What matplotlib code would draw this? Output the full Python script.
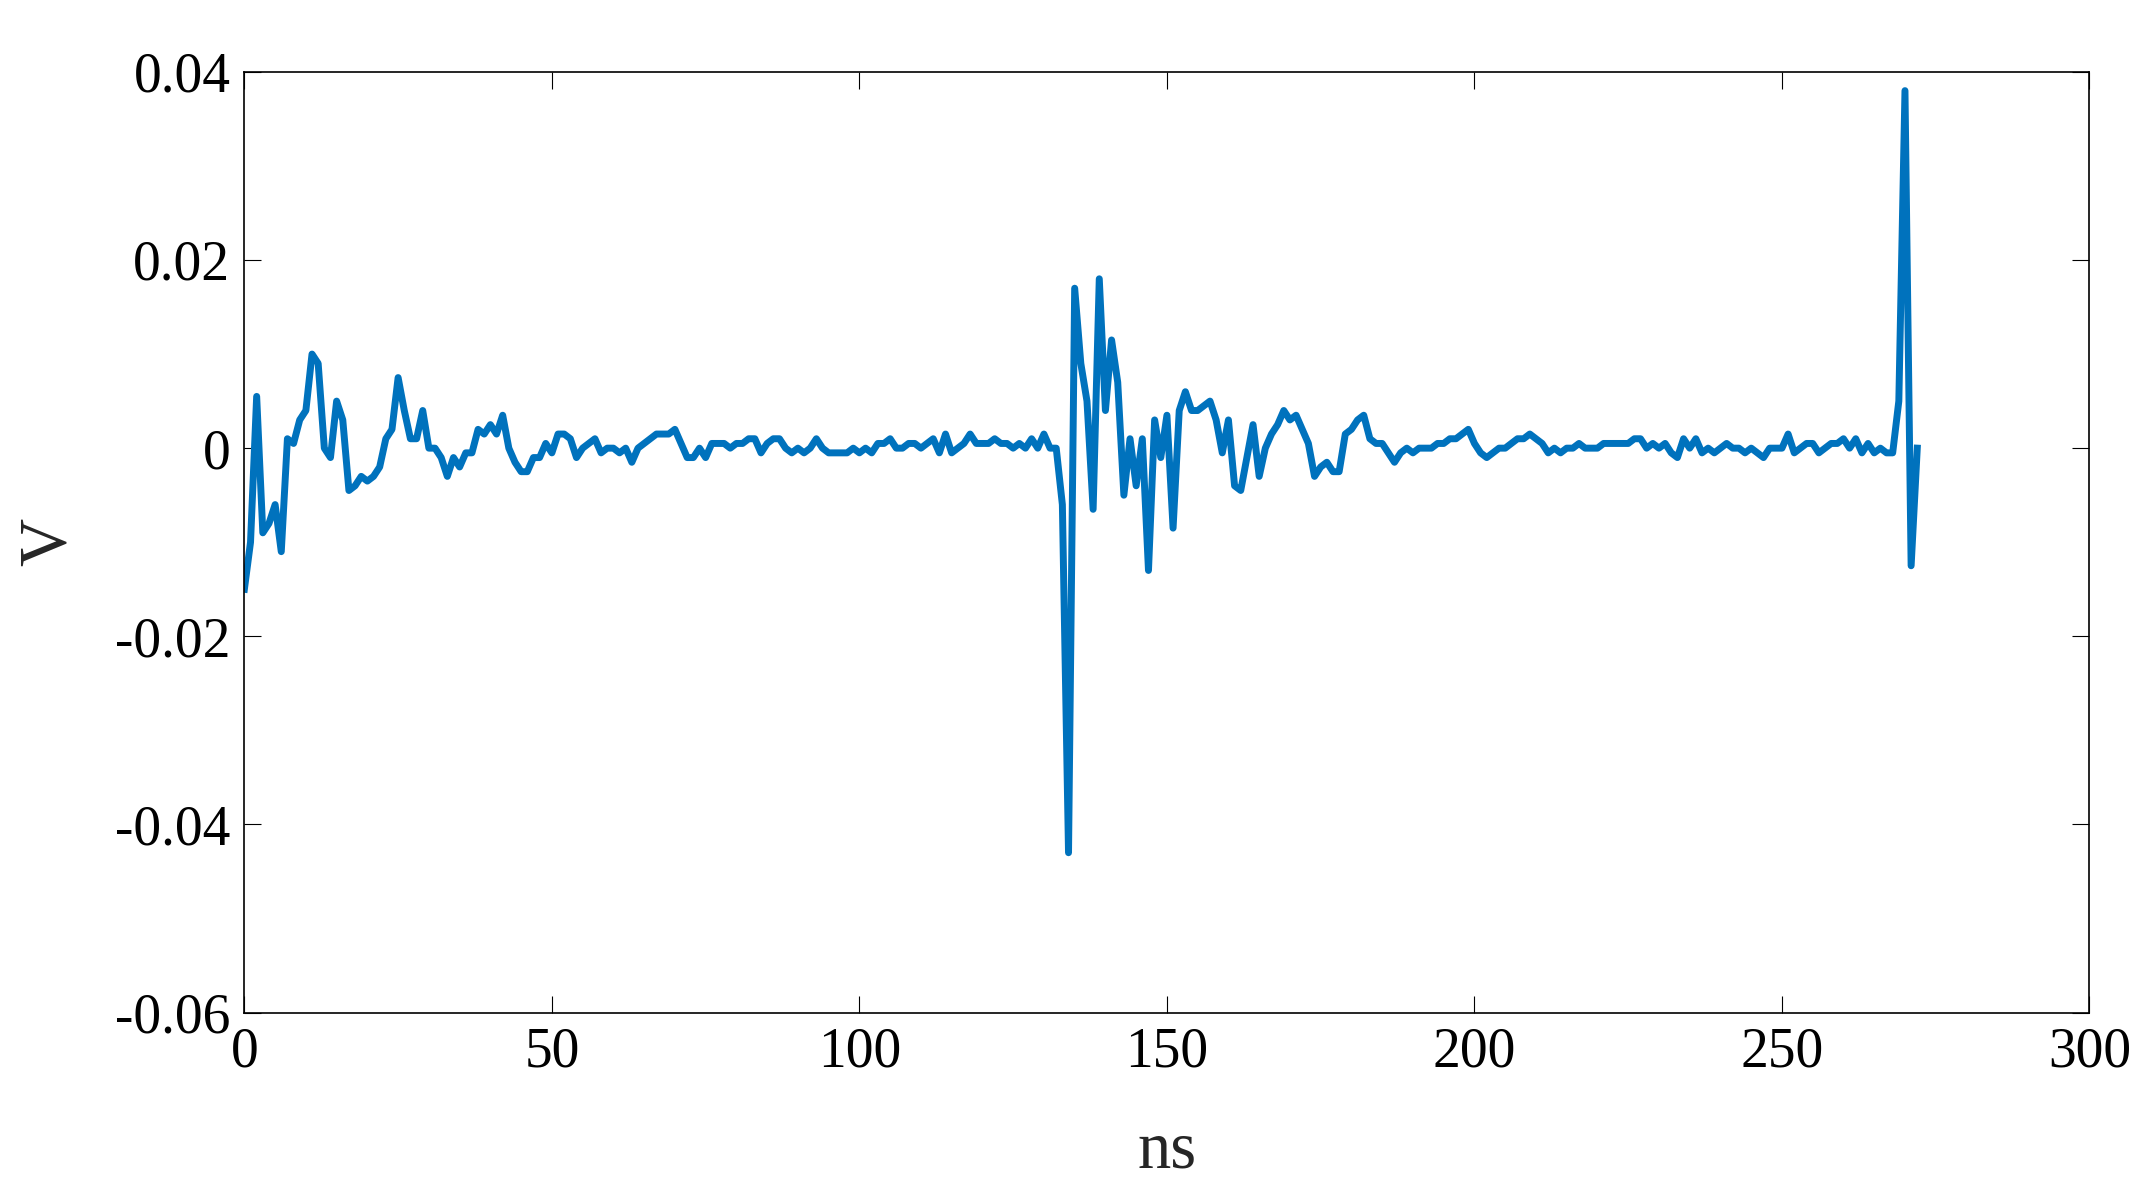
import matplotlib
matplotlib.use("Agg")
import matplotlib.pyplot as plt
import numpy as np

# signal samples (ns, V)
t_ns = list(range(0, 273))
v_start = [-0.015, -0.01, 0.0055, -0.009, -0.008, -0.006, -0.011, 0.001, 0.0005, 0.003,
           0.004, 0.010, 0.009, 0.0, -0.001, 0.005, 0.003, -0.0045, -0.004, -0.003,
           -0.0035, -0.003, -0.002, 0.001, 0.002, 0.0075, 0.004, 0.001, 0.001, 0.004,
           0.0, 0.0, -0.001, -0.003, -0.001, -0.002, -0.0005, -0.0005, 0.002, 0.0015,
           0.0025, 0.0015, 0.0035, 0.0, -0.0015, -0.0025, -0.0025, -0.001, -0.001, 0.0005,
           -0.0005, 0.0015, 0.0015, 0.001, -0.001, 0.0, 0.0005, 0.001, -0.0005, 0.0,
           0.0, -0.0005, 0.0, -0.0015, 0.0, 0.0005, 0.001, 0.0015, 0.0015, 0.0015,
           0.002, 0.0005, -0.001, -0.001, 0.0, -0.001, 0.0005, 0.0005, 0.0005, 0.0,
           0.0005, 0.0005, 0.001, 0.001, -0.0005, 0.0005, 0.001, 0.001, 0.0, -0.0005,
           0.0, -0.0005, 0.0, 0.001, 0.0, -0.0005, -0.0005, -0.0005, -0.0005, 0.0,
           -0.0005, 0.0, -0.0005, 0.0005, 0.0005, 0.001, 0.0, 0.0, 0.0005, 0.0005,
           0.0, 0.0005, 0.001, -0.0005, 0.0015, -0.0005, 0.0, 0.0005, 0.0015, 0.0005,
           0.0005, 0.0005, 0.001, 0.0005, 0.0005, 0.0, 0.0005, 0.0, 0.001, 0.0,
           0.0015, 0.0, 0.0, -0.006, -0.043, 0.017, 0.009, 0.005, -0.0065, 0.018,
           0.004, 0.0115, 0.007, -0.005, 0.001, -0.004, 0.001, -0.013, 0.003, -0.001,
           0.0035, -0.0085, 0.004, 0.006, 0.004, 0.004, 0.0045, 0.005, 0.003, -0.0005,
           0.003, -0.004, -0.0045, -0.001, 0.0025, -0.003, 0.0, 0.0015, 0.0025, 0.004,
           0.003, 0.0035, 0.002, 0.0005, -0.003, -0.002, -0.0015, -0.0025, -0.0025, 0.0015,
           0.002, 0.003, 0.0035, 0.001, 0.0005, 0.0005, -0.0005, -0.0015, -0.0005, 0.0,
           -0.0005, 0.0, 0.0, 0.0, 0.0005, 0.0005, 0.001, 0.001, 0.0015, 0.002,
           0.0005, -0.0005, -0.001, -0.0005, 0.0, 0.0, 0.0005, 0.001, 0.001, 0.0015,
           0.001, 0.0005, -0.0005, 0.0, -0.0005, 0.0, 0.0, 0.0005, 0.0, 0.0,
           0.0, 0.0005, 0.0005, 0.0005, 0.0005, 0.0005, 0.001, 0.001, 0.0, 0.0005,
           0.0, 0.0005, -0.0005, -0.001, 0.001, 0.0, 0.001, -0.0005, 0.0, -0.0005,
           0.0, 0.0005, 0.0, 0.0, -0.0005, 0.0, -0.0005, -0.001, 0.0, 0.0,
           0.0, 0.0015, -0.0005, 0.0, 0.0005, 0.0005, -0.0005, 0.0, 0.0005,
           0.0005, 0.001, 0.0, 0.001, -0.0005, 0.0005, -0.0005, 0.0, -0.0005, -0.0005,
           0.005, 0.038, -0.0125, 0.0]
volts = v_start[:len(t_ns)]

plt.rcParams['font.family'] = ['Liberation Serif', 'DejaVu Serif']
fig = plt.figure(figsize=(21.53, 11.97), dpi=100)
ax = fig.add_axes([0.1135, 0.154, 0.857, 0.786])
ax.plot(t_ns[:len(volts)], volts, color='#0072BD', linewidth=5)
ax.set_xlim(0, 300)
ax.set_ylim(-0.06, 0.04)
ax.set_xticks([0, 50, 100, 150, 200, 250, 300])
ax.set_yticks([-0.06, -0.04, -0.02, 0, 0.02, 0.04])
ax.set_yticklabels(['-0.06', '-0.04', '-0.02', '0', '0.02', '0.04'])
ax.tick_params(direction='in', length=12, labelsize=40, top=True, right=True, pad=10)
ax.set_xlabel('ns', fontsize=48, color='#262626', labelpad=30)
ax.set_ylabel('V', fontsize=48, color='#262626', labelpad=26)
for s in ax.spines.values():
    s.set_linewidth(1.2)
fig.savefig('out.png')
